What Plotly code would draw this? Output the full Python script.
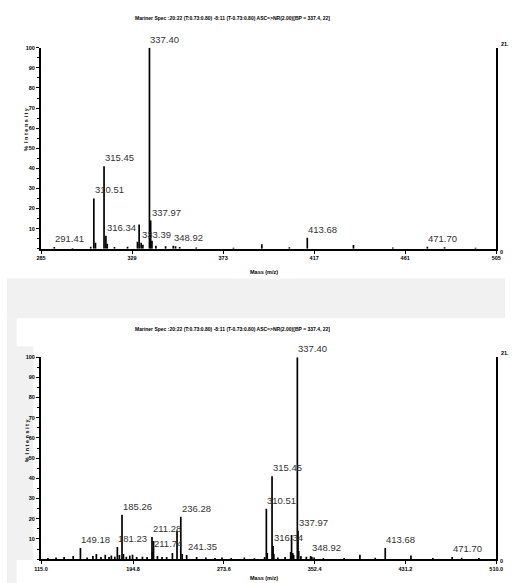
import plotly.graph_objects as go

# ---- data ----
# peaks common to both spectra (m/z 285 - 510)
hi_mass = [291.41, 300.2, 309.0, 310.51, 311.3,
           315.45, 316.34, 317.0, 320.5, 326.8,
           331.6, 332.4, 333.39, 334.2, 337.40,
           337.97, 338.6, 340.5, 345.2, 348.92,
           350.0, 352.0, 360.0, 378.0, 391.7,
           405.0, 413.68, 436.0, 455.0, 471.70,
           480.0, 495.0]
hi_int = [0.8, 0.4, 1.0, 25, 3.0,
          41, 6.5, 2.5, 0.8, 1.0,
          3.5, 12, 3.0, 2.0, 100,
          14, 4.0, 1.5, 1.2, 1.5,
          1.2, 0.8, 0.6, 0.5, 2.2,
          0.7, 5.5, 1.8, 0.6, 1.0,
          0.7, 0.5]

# additional low-mass peaks (second spectrum only)
lo_mass = [121.0, 128.0, 135.0, 142.9, 149.18,
           155.0, 160.0, 163.0, 167.0, 170.7,
           174.0, 176.0, 179.0, 181.23, 183.0,
           185.26, 186.5, 189.0, 192.0, 194.4,
           198.0, 203.0, 207.0, 211.28, 211.74,
           212.6, 216.0, 220.0, 224.0, 229.0,
           233.0, 236.28, 237.5, 241.35, 250.0,
           258.0, 266.0, 272.0, 280.0]
lo_int = [0.5, 0.8, 1.0, 1.5, 5.5,
          0.8, 1.5, 2.5, 1.0, 2.2,
          1.0, 1.8, 1.2, 6.0, 2.0,
          22, 2.5, 1.2, 1.8, 2.2,
          1.0, 1.2, 1.0, 11, 3.5,
          9.0, 1.5, 1.0, 1.0, 3.0,
          14, 21, 2.5, 2.0, 1.0,
          0.8, 0.6, 0.8, 0.6]

top_labels = ["291.41", "310.51", "315.45", "316.34", "333.39", "337.40", "337.97",
              "348.92", "413.68", "471.70"]
bot_labels = ["149.18", "181.23", "185.26", "211.28", "211.74", "236.28", "241.35",
              "310.51", "315.45", "316.34", "337.40", "337.97", "348.92", "413.68",
              "471.70"]

top_ticks = [285, 329, 373, 417, 461, 505]
bot_ticks = [115.0, 194.8, 273.6, 352.4, 431.2, 510.0]
y_ticks = [10, 20, 30, 40, 50, 60, 70, 80, 90, 100]

title_txt = "Mariner Spec :20:22 (T:0.73:0.80) -8:11 (T-0.73:0.80) ASC=>NR(2.00)[BP = 337.4, 22]"

FONT = "Liberation Sans Narrow, Arial Narrow, Liberation Sans, Arial"


def sticks(masses, ints):
    xs, ys = [], []
    for m, h in zip(masses, ints):
        xs += [m, m, None]
        ys += [0, h, None]
    return xs, ys


fig = go.Figure()

tx, ty = sticks(hi_mass, hi_int)
fig.add_trace(go.Scatter(x=tx, y=ty, mode="lines", line=dict(color="black", width=1.7),
                         xaxis="x", yaxis="y", hoverinfo="skip", showlegend=False))

all_mass = lo_mass + hi_mass
all_int = lo_int + hi_int
bx, by = sticks(all_mass, all_int)
fig.add_trace(go.Scatter(x=bx, y=by, mode="lines", line=dict(color="black", width=1.7),
                         xaxis="x2", yaxis="y2", hoverinfo="skip", showlegend=False))

lookup = dict(zip([f"{m:.2f}" for m in all_mass], all_int))

lab_font = dict(family=FONT, size=9.5, color="#333")
annotations = []
for lab in top_labels:
    annotations.append(dict(x=float(lab), y=lookup[lab], xref="x", yref="y", text=lab,
                            showarrow=False, xanchor="left", yanchor="bottom", yshift=1,
                            xshift=-1, font=lab_font))
for lab in bot_labels:
    annotations.append(dict(x=float(lab), y=lookup[lab], xref="x2", yref="y2", text=lab,
                            showarrow=False, xanchor="left", yanchor="bottom", yshift=1,
                            xshift=-1, font=lab_font))

small = dict(family=FONT, size=5.5, color="black", weight="bold")
tiny = dict(family=FONT, size=5, color="black", weight="bold")

for yc in [15, 328]:
    annotations.append(dict(x=232 / 512, y=1 - yc / 583, xref="paper", yref="paper",
                            text=title_txt, showarrow=False, yanchor="middle", font=tiny))

for yc in [127, 440]:
    annotations.append(dict(x=15 / 512, y=1 - yc / 583, xref="paper", yref="paper",
                            text="%  I n t e n s i t y", textangle=-90, showarrow=False,
                            yanchor="middle", font=small))
for yc in [270, 578]:
    annotations.append(dict(x=264 / 512, y=1 - yc / 583, xref="paper", yref="paper",
                            text="Mass (m/z)", showarrow=False, yanchor="middle",
                            font=small))

# right-hand absolute scale labels
for y_top, y_bot in [(41, 250), (352, 561)]:
    annotations.append(dict(x=506 / 512, y=1 - y_top / 583, xref="paper", yref="paper",
                            text="21.", showarrow=False, xanchor="left", yanchor="middle",
                            font=small))
    annotations.append(dict(x=505 / 512, y=1 - y_bot / 583, xref="paper", yref="paper",
                            text="0", showarrow=False, xanchor="left", yanchor="middle",
                            font=small))

# faint background watermark bands of the scanned page
wm = "#f1f1f1"
shapes = [
    dict(type="rect", xref="paper", yref="paper", x0=0, x1=1,
         y0=1 - 317 / 583, y1=1 - 277 / 583, fillcolor=wm, line_width=0, layer="below"),
    dict(type="rect", xref="paper", yref="paper", x0=0, x1=10 / 512,
         y0=0, y1=1 - 317 / 583, fillcolor=wm, line_width=0, layer="below"),
    dict(type="rect", xref="paper", yref="paper", x0=0, x1=27 / 512,
         y0=1 - 560 / 583, y1=1 - 345 / 583, fillcolor=wm, line_width=0, layer="below"),
]

xdom = [35 / 512, 503 / 512]
ax_common = dict(showline=True, linecolor="black", linewidth=2, showgrid=False,
                 zeroline=False, ticks="outside", ticklen=3, tickwidth=1,
                 tickcolor="black", tickfont=small)

fig.update_layout(
    width=512, height=583, margin=dict(l=0, r=0, t=0, b=0),
    paper_bgcolor="white", plot_bgcolor="rgba(0,0,0,0)",
    showlegend=False,
    xaxis=dict(domain=xdom, range=[285, 505], anchor="y", tickvals=top_ticks,
               ticktext=[str(t) for t in top_ticks], **ax_common),
    yaxis=dict(domain=[1 - 247 / 583, 1 - 45 / 583], range=[0, 100], anchor="x",
               tickvals=y_ticks, mirror=True,
               minor=dict(dtick=5, ticks="outside", ticklen=2, tickcolor="black"),
               **ax_common),
    xaxis2=dict(domain=xdom, range=[115, 510], anchor="y2", tickvals=bot_ticks,
                ticktext=[f"{t:.1f}" for t in bot_ticks], **ax_common),
    yaxis2=dict(domain=[1 - 559 / 583, 1 - 356 / 583], range=[0, 100], anchor="x2",
                tickvals=y_ticks, mirror=True,
                minor=dict(dtick=5, ticks="outside", ticklen=2, tickcolor="black"),
                **ax_common),
    annotations=annotations,
    shapes=shapes,
)

fig.write_html("out.html", config={"displayModeBar": False},
               post_script="document.body.style.margin='0px';")
